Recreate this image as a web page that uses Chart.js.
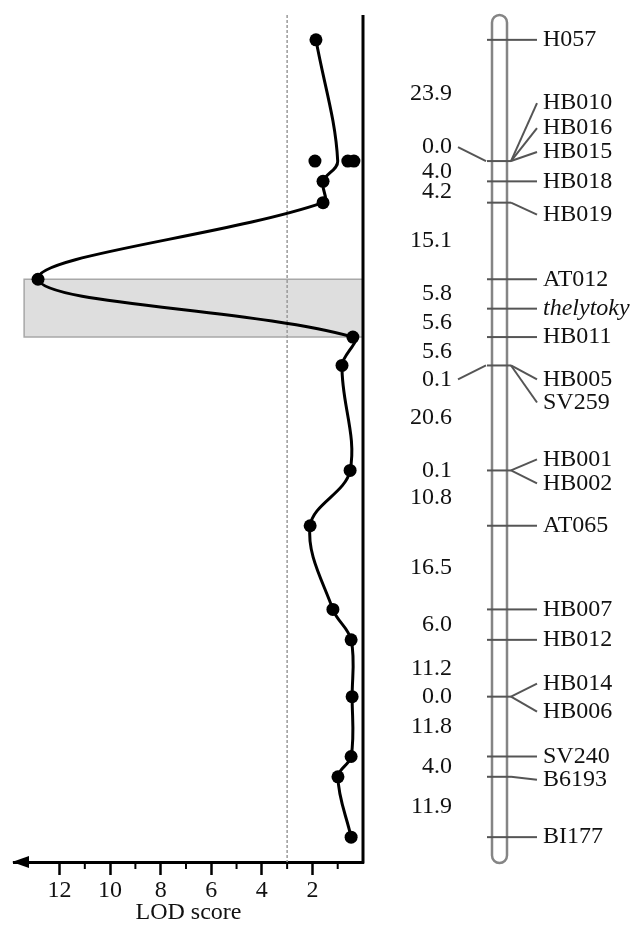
<!DOCTYPE html>
<html>
<head>
<meta charset="utf-8">
<script src="https://cdn.jsdelivr.net/npm/chart.js@4.4.0/dist/chart.umd.min.js"></script>
<style>
  html, body { margin: 0; padding: 0; background: #fff; }
  #wrap { position: relative; width: 631px; height: 930px; }
</style>
</head>
<body>
<div id="wrap"><canvas id="lodChart"></canvas></div>
<script>
// LOD profile: position on the map (cM) and LOD score
const lodPos = [0, 23.9, 27.9, 32.1, 47.2, 58.6, 64.2, 84.9, 95.8, 112.3, 118.3, 129.5, 141.3, 145.3, 157.2];
const lodVal = [1.86, 1.0, 1.58, 1.58, 12.85, 0.4, 0.83, 0.51, 2.09, 1.19, 0.47, 0.43, 0.47, 0.99, 0.47];
const lodDot = [true, false, true, true, true, true, true, true, true, true, true, true, true, true, true];

// loose dots at the HB010/HB016/HB015 locus
const extraPos = [23.9, 23.9, 23.9];
const extraVal = [1.9, 0.6, 0.36];

const threshold = 3.0;
const ciStart = 47.2;
const ciEnd = 58.6;
const ciLod = 13.4;
const lodTickLabels = [2, 4, 6, 8, 10, 12];

// linkage map: loci (markers at the same spot grouped), printed gaps between loci
const loci = [
  ['H057'], ['HB010', 'HB016', 'HB015'], ['HB018'], ['HB019'], ['AT012'], ['thelytoky'],
  ['HB011'], ['HB005', 'SV259'], ['HB001', 'HB002'], ['AT065'], ['HB007'], ['HB012'],
  ['HB014', 'HB006'], ['SV240'], ['B6193'], ['BI177']
];
const lociGap = [23.9, 4.0, 4.2, 15.1, 5.8, 5.6, 5.6, 20.6, 10.8, 16.5, 6.0, 11.2, 11.8, 4.0, 11.9];
const lociSpread = ['', '0.0', '', '', '', '', '', '0.1', '0.1', '', '', '', '0.0', '', '', ''];

const lociPos = [0];
for (let i = 0; i < lociGap.length; i++) {
  lociPos.push(lociPos[i] + (parseFloat(lociSpread[i]) || 0) + lociGap[i]);
}

// drawing layout for the map (pixels)
const chromLeft = 492, chromRight = 507;
const tickLeft = 487, forkX = 511, tickRight = 537, labelX = 543, numRight = 452;
const labelShift = { HB010: -58, HB016: -33, HB015: -9, HB019: 12, HB005: 14, SV259: 37,
  HB001: -11, HB002: 13, HB014: -13, HB006: 15, B6193: 3 };
const spreadShift = { 1: -14, 7: 14 };
const gapShift = { 0: -7 };
const serif = '"Liberation Serif", "Times New Roman", serif';
const fontPx = 24;

const mapPlugin = {
  id: 'linkageMap',
  afterDraw(chart) {
    const { ctx, chartArea } = chart;
    const x = chart.scales.x, y = chart.scales.y;
    const zeroX = x.getPixelForValue(0);
    ctx.save();

    // right border of the LOD panel
    ctx.strokeStyle = '#000';
    ctx.lineWidth = 3;
    ctx.beginPath();
    ctx.moveTo(zeroX, chartArea.top);
    ctx.lineTo(zeroX, chartArea.bottom + 1.5);
    ctx.stroke();

    // minor ticks
    ctx.lineWidth = 2;
    for (let v = 1; v <= 11; v += 2) {
      const px = x.getPixelForValue(v);
      ctx.beginPath();
      ctx.moveTo(px, chartArea.bottom);
      ctx.lineTo(px, chartArea.bottom + 7);
      ctx.stroke();
    }

    // arrow head at the high-LOD end
    ctx.fillStyle = '#000';
    ctx.beginPath();
    ctx.moveTo(chartArea.left - 2, chartArea.bottom);
    ctx.lineTo(chartArea.left + 15, chartArea.bottom - 6);
    ctx.lineTo(chartArea.left + 15, chartArea.bottom + 6);
    ctx.closePath();
    ctx.fill();

    // chromosome
    const top = chartArea.top, bot = chartArea.bottom + 1;
    const r = (chromRight - chromLeft) / 2, cx = (chromLeft + chromRight) / 2;
    ctx.strokeStyle = '#858585';
    ctx.lineWidth = 2.5;
    ctx.beginPath();
    ctx.moveTo(chromLeft, top + r);
    ctx.arc(cx, top + r, r, Math.PI, 0);
    ctx.lineTo(chromRight, bot - r);
    ctx.arc(cx, bot - r, r, 0, Math.PI);
    ctx.closePath();
    ctx.stroke();

    ctx.strokeStyle = '#555';
    ctx.lineWidth = 2;
    ctx.fillStyle = '#111';
    ctx.textBaseline = 'middle';

    loci.forEach((names, i) => {
      const py = y.getPixelForValue(lociPos[i]);
      ctx.beginPath();
      ctx.moveTo(tickLeft, py);
      ctx.lineTo(forkX, py);
      ctx.stroke();
      names.forEach(name => {
        const ly = py + (labelShift[name] || 0);
        ctx.beginPath();
        ctx.moveTo(forkX, py);
        ctx.lineTo(tickRight, ly);
        ctx.stroke();
        ctx.textAlign = 'left';
        ctx.font = (name === 'thelytoky' ? 'italic ' : '') + fontPx + 'px ' + serif;
        ctx.fillText(name, labelX, ly);
      });

      ctx.font = fontPx + 'px ' + serif;
      ctx.textAlign = 'right';
      if (lociSpread[i]) {
        const sy = py + (spreadShift[i] || 0);
        ctx.fillText(lociSpread[i], numRight, sy);
        if (spreadShift[i]) {
          ctx.beginPath();
          ctx.moveTo(numRight + 6, sy);
          ctx.lineTo(tickLeft - 1, py);
          ctx.stroke();
        }
      }
      if (i < lociGap.length) {
        const mid = y.getPixelForValue((lociPos[i] + lociPos[i + 1]) / 2) + (gapShift[i] || 0);
        ctx.fillText(lociGap[i].toFixed(1), numRight, mid);
      }
    });
    ctx.restore();
  }
};

const toXY = (ys, xs) => ys.map((v, i) => ({ x: xs[i], y: v }));

new Chart(document.getElementById('lodChart'), {
  type: 'scatter',
  data: {
    datasets: [
      {
        data: toXY(lodPos, lodVal),
        showLine: true,
        tension: 0.36,
        borderColor: '#000',
        borderWidth: 3,
        backgroundColor: '#000',
        pointRadius: lodDot.map(d => d ? 6.5 : 0),
        pointBorderWidth: 0,
        order: 0
      },
      {
        data: toXY(extraPos, extraVal),
        showLine: false,
        backgroundColor: '#000',
        pointRadius: 6.5,
        pointBorderWidth: 0,
        order: 0
      },
      {
        data: [{ x: threshold, y: -4.9 }, { x: threshold, y: 162.1 }],
        showLine: true,
        borderColor: '#9a9a9a',
        borderWidth: 1.5,
        borderDash: [3, 2],
        pointRadius: 0,
        order: 1
      },
      {
        data: [{ x: 0, y: ciStart }, { x: ciLod, y: ciStart }, { x: ciLod, y: ciEnd }, { x: 0, y: ciEnd }, { x: 0, y: ciStart }],
        showLine: true,
        borderColor: '#a8a8a8',
        borderWidth: 1.5,
        backgroundColor: '#dedede',
        fill: 'shape',
        pointRadius: 0,
        order: 2
      }
    ]
  },
  options: {
    responsive: true,
    maintainAspectRatio: false,
    animation: false,
    layout: { padding: { left: 14, right: 268, top: 15, bottom: 0 } },
    plugins: { legend: { display: false }, tooltip: { enabled: false } },
    scales: {
      x: {
        type: 'linear',
        reverse: true,
        min: 0,
        max: 13.8,
        afterFit: (scale) => { scale.height = 68; },
        border: { display: true, color: '#000', width: 3 },
        grid: {
          drawOnChartArea: false,
          drawTicks: true,
          tickLength: 13,
          tickWidth: 2.5,
          tickColor: (c) => (c.tick && lodTickLabels.includes(c.tick.value)) ? '#000' : 'rgba(0,0,0,0)'
        },
        ticks: {
          stepSize: 1,
          autoSkip: false,
          maxRotation: 0,
          padding: 1,
          color: '#111',
          font: { family: serif, size: fontPx },
          callback: (v) => lodTickLabels.includes(v) ? String(v) : ''
        },
        title: {
          display: true,
          text: 'LOD score',
          color: '#111',
          font: { family: serif, size: fontPx },
          padding: { top: 0, bottom: 3 }
        }
      },
      y: {
        type: 'linear',
        reverse: true,
        min: -4.9,
        max: 162.1,
        display: false
      }
    }
  },
  plugins: [mapPlugin]
});
</script>
</body>
</html>
